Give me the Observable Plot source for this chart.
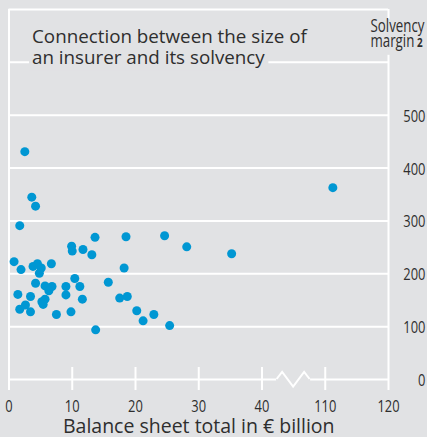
<!DOCTYPE html>
<html><head><meta charset="utf-8">
<script src="https://cdn.jsdelivr.net/npm/d3@7"></script>
<script src="https://cdn.jsdelivr.net/npm/@observablehq/plot@0.6"></script>
<style>
html,body{margin:0;padding:0;background:#e1e2e4;}
#chart svg{display:block;}
</style></head><body>
<div id="chart"></div>
<script>
// Data
const balanceSheetTotal = [2.5, 3.6, 4.2, 1.7, 13.6, 18.5, 24.6, 28.1, 9.9, 10.0, 11.7, 13.1, 0.8, 1.9, 3.8, 4.5, 5.1, 4.8, 6.7, 18.2, 10.4, 4.2, 5.7, 6.8, 6.3, 9.0, 11.2, 15.7, 1.4, 3.4, 9.0, 5.7, 5.2, 5.4, 2.6, 1.7, 3.4, 11.6, 7.5, 9.8, 17.5, 18.7, 20.2, 22.9, 21.2, 25.4, 13.7, 35.2, 111.2];
const solvencyMargin = [431, 345, 328, 291, 269, 270, 272, 251, 252, 243, 246, 236, 223, 208, 214, 219, 211, 201, 219, 211, 191, 182, 177, 176, 168, 176, 176, 184, 161, 157, 160, 152, 147, 142, 141, 133, 128, 152, 123, 128, 154, 157, 130, 123, 111, 102, 94, 238, 363];
const xTicks = [0, 10, 20, 30, 40, 110, 120];
const xInnerTicks = [10, 20, 30, 40, 110];
const yTicks = [0, 100, 200, 300, 400, 500];
const gridLines = [100, 200, 300, 400, 500, 600, 700];
const xBreak = [40, 110];
const titleText = "Connection between the size of\nan insurer and its solvency";
const yLabelLine1 = "Solvency";
const yLabelLine2 = "margin";
const yLabelNote = "2";
const xLabel = "Balance sheet total in € billion";

const data = balanceSheetTotal.map((x, i) => ({x, y: solvencyMargin[i]}));

const BG = "#e1e2e4", DOT = "#0097d3", INK = "#2e2e2e";
const W = 427, H = 437, mL = 8.5, mR = 39, mT = 9, mB = 58;
const x0 = mL, x1 = W - mR;
// broken axis: 0–40 and 110–120, the gap is as wide as 10 units
const seg = u => x0 + u / 60 * (x1 - x0);
const xDomain = [0, 40, 110, 120];
const xRange = [0, 40, 50, 60].map(seg);
const FONT = "'Open Sans', sans-serif";
const CONDENSE = 0.76;

const chart = Plot.plot({
  width: W, height: H,
  marginLeft: mL, marginRight: mR, marginTop: mT, marginBottom: mB,
  style: {background: BG, fontFamily: FONT, color: INK, overflow: "visible"},
  x: {type: "linear", domain: xDomain, range: xRange},
  y: {domain: [0, 700], range: [H - mB, mT]},
  marks: [
    Plot.ruleY(gridLines, {stroke: "white", strokeWidth: 2}),
    Plot.ruleY([0], {stroke: "white", strokeWidth: 2}),
    Plot.ruleX([0, 120], {stroke: "white", strokeWidth: 2}),
    Plot.axisX({ticks: xTicks, tickSize: 11, text: null, stroke: "white", strokeWidth: 2, strokeOpacity: 1, label: null}),
    Plot.axisX({ticks: xInnerTicks, tickSize: -12, text: null, stroke: "white", strokeWidth: 2, strokeOpacity: 1, label: null}),
    Plot.axisX({ticks: xTicks, tickSize: 0, tickPadding: 20, fontSize: 17, fill: INK, label: null, className: "cond"}),
    Plot.axisY({anchor: "right", ticks: yTicks, tickSize: 0, tickPadding: 0, textAnchor: "end", dx: 37, dy: 1, fontSize: 17, fill: INK, label: null, className: "cond"}),
    Plot.dot(data, {x: "x", y: "y", r: 4.5, fill: DOT, stroke: null}),
    Plot.text([xLabel], {frameAnchor: "bottom", lineAnchor: "bottom", dy: 53, fontSize: 19.5, fill: INK}),
    Plot.text([titleText], {frameAnchor: "top-left", textAnchor: "start", lineAnchor: "top", dx: 23, dy: 19, fontSize: 18.8, lineHeight: 1.1, fill: INK, className: "title"}),
    Plot.text([yLabelLine1], {frameAnchor: "top-right", textAnchor: "start", lineAnchor: "bottom", dx: -18, dy: 22.7, fontSize: 17.5, fill: INK, className: "cond ylab"}),
    Plot.text([yLabelLine2], {frameAnchor: "top-right", textAnchor: "start", lineAnchor: "bottom", dx: -18, dy: 37.7, fontSize: 17.5, fill: INK, className: "cond ylab"})
  ]
});

document.getElementById("chart").append(chart);
const svg = d3.select(chart);
const svgRect = () => chart.getBoundingClientRect();

// footnote marker after "margin"
svg.selectAll("text").filter(function () { return this.textContent === yLabelLine2; })
  .append("tspan").attr("font-weight", "bold").attr("font-size", 13).text(" " + yLabelNote);

// condensed type for axis labels (as in the reference)
svg.selectAll(".cond text").each(function () {
  const t = this.getAttribute("transform") || "";
  this.setAttribute("transform", `${t} scale(${CONDENSE},1)`);
});

// background box behind each title line, interrupting the grid line
svg.selectAll(".title text").each(function () {
  const text = this;
  const g = d3.select(text.parentNode);
  const sr = svgRect();
  const lines = text.querySelectorAll("tspan");
  (lines.length ? Array.from(lines) : [text]).forEach(node => {
    const r = node.getBoundingClientRect();
    svg.insert("rect", () => text.parentNode)
      .attr("x", r.left - sr.left - 3).attr("y", r.top - sr.top - 1)
      .attr("width", r.width + 6).attr("height", r.height + 2)
      .attr("fill", BG);
  });
});

// background box behind the y label, interrupting the right frame line
(function () {
  const nodes = svg.selectAll(".ylab text").nodes();
  const rs = nodes.map(n => n.getBoundingClientRect());
  const sr = svgRect();
  const left = Math.min(...rs.map(r => r.left)) - sr.left - 4;
  const top = Math.min(...rs.map(r => r.top)) - sr.top + 6;
  const bottom = Math.max(...rs.map(r => r.bottom)) - sr.top + 2;
  svg.insert("rect", () => nodes[0].parentNode)
    .attr("x", left).attr("y", top).attr("width", W - left).attr("height", bottom - top)
    .attr("fill", BG);
})();

// axis break symbol
const sx = chart.scale("x"), sy = chart.scale("y");
const gA = sx.apply(xBreak[0]), gB = sx.apply(xBreak[1]), yz = sy.apply(0);
const c = (gA + gB) / 2;
const brk = svg.append("g");
brk.append("line").attr("x1", c - 17).attr("x2", c + 17).attr("y1", yz).attr("y2", yz)
  .attr("stroke", BG).attr("stroke-width", 4);
brk.append("polyline")
  .attr("points", [[c - 16.5, yz], [c - 11, yz - 7], [c, yz + 7.5], [c + 11, yz - 7], [c + 16.5, yz]].map(p => p.join(",")).join(" "))
  .attr("fill", "none").attr("stroke", "white").attr("stroke-width", 2).attr("stroke-linejoin", "miter");
</script>
</body></html>
